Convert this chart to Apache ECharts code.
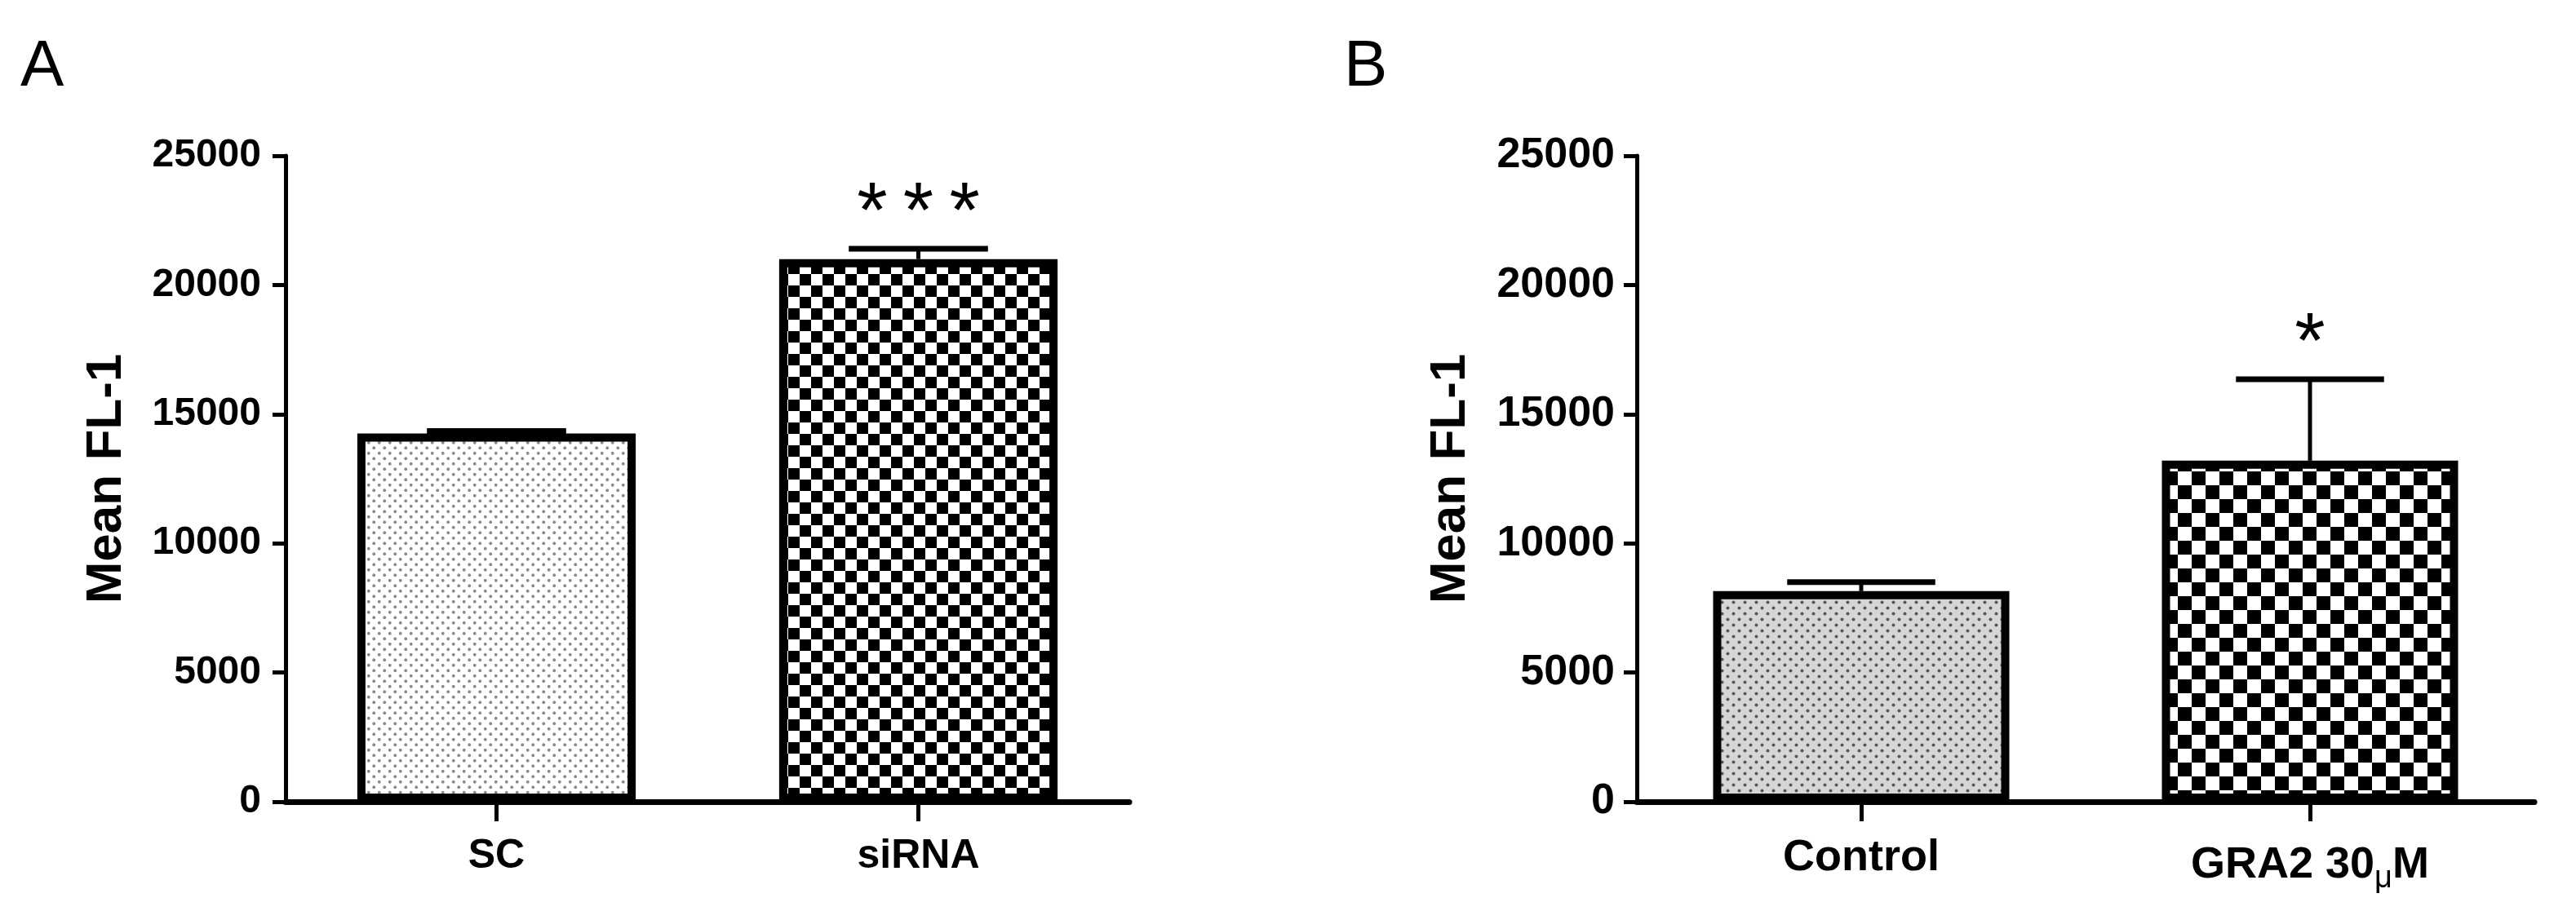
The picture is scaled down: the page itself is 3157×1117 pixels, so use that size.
<!DOCTYPE html>
<html>
<head>
<meta charset="utf-8">
<title>Mean FL-1</title>
<script src="https://cdn.jsdelivr.net/npm/echarts@6/dist/echarts.min.js"></script>
<style>
  html, body { margin: 0; padding: 0; background: #fff; }
  #chart { width: 3157px; height: 1117px; }
</style>
</head>
<body>
<div id="chart"></div>
<script>
// panel A
const categoriesA = ['SC', 'siRNA'];
const meanA = [14250, 21000];
const semA = [100, 400];
const sigA = ['', '***'];

// panel B
const categoriesB = ['Control', 'GRA2 30μM'];
const meanB = [8150, 13200];
const semB = [350, 3150];
const sigB = ['', '*'];

const yMax = 25000;
const yStep = 5000;

const FONT = "'Liberation Sans', Arial, Helvetica, sans-serif";

// fill patterns
function dotPattern(size, bg, dot, r) {
  const c = document.createElement('canvas');
  c.width = size; c.height = size;
  const ctx = c.getContext('2d');
  ctx.fillStyle = bg;
  ctx.fillRect(0, 0, size, size);
  ctx.fillStyle = dot;
  [[size / 4, size / 4], [size * 3 / 4, size * 3 / 4]].forEach(([x, y]) => {
    ctx.beginPath();
    ctx.arc(x, y, r, 0, Math.PI * 2);
    ctx.fill();
  });
  return { image: c, repeat: 'repeat' };
}

function checkerPattern(cell) {
  const c = document.createElement('canvas');
  c.width = cell * 2; c.height = cell * 2;
  const ctx = c.getContext('2d');
  ctx.fillStyle = '#fff';
  ctx.fillRect(0, 0, cell * 2, cell * 2);
  ctx.fillStyle = '#000';
  ctx.fillRect(0, 0, cell, cell);
  ctx.fillRect(cell, cell, cell, cell);
  return { image: c, repeat: 'repeat' };
}

const fillsA = [dotPattern(13, '#fff', '#8a8a8a', 1.9), checkerPattern(14)];
const fillsB = [dotPattern(14, '#d6d6d6', '#555', 2.0), checkerPattern(17)];

const BAR_W = '66%';

function barData(values, fills) {
  return values.map((v, i) => ({
    value: v,
    itemStyle: { color: fills[i] }
  }));
}

function errData(means, sems) {
  return means.map((m, i) => [i, m, sems[i]]);
}

function makeErrRender(sigs) {
  return function (params, api) {
    const x = api.value(0);
    const mean = api.value(1);
    const sem = api.value(2);
    const base = api.coord([x, mean]);
    const top = api.coord([x, mean + sem]);
    const halfCap = api.size([1, 0])[0] * 0.66 / 4;
    const children = [
      {
        type: 'line',
        shape: { x1: base[0], y1: base[1], x2: top[0], y2: top[1] },
        style: { stroke: '#000', lineWidth: 5 }
      },
      {
        type: 'line',
        shape: { x1: top[0] - halfCap, y1: top[1], x2: top[0] + halfCap, y2: top[1] },
        style: { stroke: '#000', lineWidth: 7 }
      }
    ];
    const sig = sigs[params.dataIndex];
    if (sig) {
      children.push({
        type: 'text',
        style: {
          text: sig.split('').join('\u2009'),
          x: top[0],
          y: top[1] - 42,
          align: 'center',
          verticalAlign: 'middle',
          fill: '#000',
          font: 'normal 96px ' + FONT
        }
      });
    }
    return { type: 'group', children: children };
  };
}

function yAxisOpt(gridIndex, labelSize, nameGap, margin) {
  return {
    type: 'value',
    gridIndex: gridIndex,
    min: 0,
    max: yMax,
    interval: yStep,
    name: 'Mean FL-1',
    nameLocation: 'middle',
    nameGap: nameGap,
    nameTextStyle: { fontFamily: FONT, fontWeight: 'bold', fontSize: 62, color: '#000' },
    axisLine: { show: true, lineStyle: { color: '#000', width: 5 } },
    axisTick: { show: true, length: 16, lineStyle: { color: '#000', width: 5 } },
    axisLabel: {
      fontFamily: FONT, fontWeight: 'bold', fontSize: labelSize, color: '#000', margin: margin,
      formatter: v => String(v)
    },
    splitLine: { show: false }
  };
}

function xAxisOpt(gridIndex, cats, labelSize) {
  return {
    type: 'category',
    gridIndex: gridIndex,
    data: cats,
    axisLine: { show: true, lineStyle: { color: '#000', width: 7 } },
    axisTick: { show: true, alignWithLabel: true, length: 24, lineStyle: { color: '#000', width: 5 } },
    axisLabel: {
      interval: 0,
      hideOverlap: false,
      fontFamily: FONT, fontWeight: 'bold', fontSize: labelSize, color: '#000', margin: 42,
      formatter: v => v.replace('μ', '{mu|μ}'),
      rich: {
        mu: { fontFamily: FONT, fontWeight: 'normal', fontSize: 38, color: '#000', padding: [34, 0, 0, 0] }
      }
    }
  };
}

const chart = echarts.init(document.getElementById('chart'));

chart.setOption({
  animation: false,
  backgroundColor: '#fff',
  title: [
    { text: 'A', left: 20, top: 38, textStyle: { fontFamily: FONT, fontWeight: 'normal', fontSize: 80, color: '#000' } },
    { text: 'B', left: 1642, top: 38, textStyle: { fontFamily: FONT, fontWeight: 'normal', fontSize: 80, color: '#000' } }
  ],
  grid: [
    { left: 350, top: 191, width: 1034, height: 792 },
    { left: 2006, top: 191, width: 1100, height: 792 }
  ],
  xAxis: [
    xAxisOpt(0, categoriesA, 50),
    xAxisOpt(1, categoriesB, 54)
  ],
  yAxis: [
    yAxisOpt(0, 48, 188, 30),
    yAxisOpt(1, 52, 197, 27)
  ],
  series: [
    {
      type: 'bar',
      xAxisIndex: 0, yAxisIndex: 0,
      barWidth: BAR_W,
      data: barData(meanA, fillsA),
      itemStyle: { borderColor: '#000', borderWidth: 10 },
      z: 2
    },
    {
      type: 'bar',
      xAxisIndex: 1, yAxisIndex: 1,
      barWidth: BAR_W,
      data: barData(meanB, fillsB),
      itemStyle: { borderColor: '#000', borderWidth: 10 },
      z: 2
    },
    {
      type: 'custom',
      xAxisIndex: 0, yAxisIndex: 0,
      renderItem: makeErrRender(sigA),
      data: errData(meanA, semA),
      z: 3
    },
    {
      type: 'custom',
      xAxisIndex: 1, yAxisIndex: 1,
      renderItem: makeErrRender(sigB),
      data: errData(meanB, semB),
      z: 3
    }
  ]
});
</script>
</body>
</html>
